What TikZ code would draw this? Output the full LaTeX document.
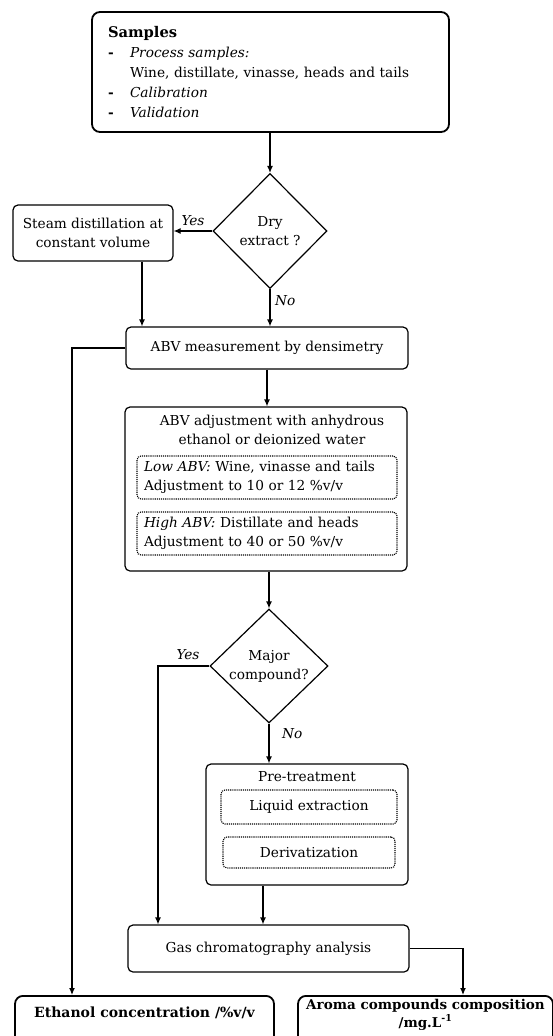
\documentclass[tikz,border=0pt]{standalone}
\usepackage{fontspec}
\setmainfont{DejaVu Serif}
\usetikzlibrary{shapes.geometric,arrows.meta}

\tikzset{
  stepbox/.style={draw,rounded corners=5pt,line width=1.2pt,inner sep=0pt,align=center},
  outbox/.style={draw,rounded corners=8pt,line width=1.8pt,inner sep=0pt,align=center},
  subbox/.style={draw,densely dotted,rounded corners=4pt,line width=1.1pt,inner sep=0pt},
  decision/.style={draw,diamond,line width=1.2pt,inner sep=0pt,align=center},
  answer/.style={font=\itshape},
}

\begin{document}
\fontsize{13.7}{19}\selectfont
\begin{tikzpicture}[x=1pt,y=-1pt,>={Latex[length=7pt,width=6pt]},line width=1.2pt]
\useasboundingbox (0,0) rectangle (553,1036);

% top of the flow
\node[stepbox,line width=1.8pt,rounded corners=8pt,text width=325pt,inner xsep=16pt,
  minimum height=120pt,align=left,font=\fontsize{13.7}{20}\selectfont] (samples) at (270.5,72)
  {{\fontsize{14.7}{20}\selectfont\textbf{Samples}}\\
   \makebox[22pt][l]{\textbf{-}}\textit{Process samples:}\\
   \hspace*{22pt}Wine, distillate, vinasse, heads and tails\\
   \makebox[22pt][l]{\textbf{-}}\textit{Calibration}\\
   \makebox[22pt][l]{\textbf{-}}\textit{Validation}};
\node[decision,minimum width=114pt,minimum height=115pt] (dry) at (270,231) {Dry\\extract ?};
\node[stepbox,minimum width=160pt,minimum height=56pt] (steam) at (93,233)
  {Steam distillation at\\constant volume};
\node[stepbox,minimum width=282pt,minimum height=42pt] (abvm) at (267,348)
  {ABV measurement by densimetry};

% adjustment
\node[stepbox,minimum width=282pt,minimum height=164pt] (adj) at (266,489) {};
\node[align=center,inner sep=0pt] (adjtitle) at (272,430)
  {ABV adjustment with anhydrous\\ethanol or deionized water};
\node[subbox,minimum width=260pt,minimum height=43pt,text width=246pt,inner xsep=7pt,align=left] (low) at (267,477.5)
  {\textit{Low ABV:} Wine, vinasse and tails\\Adjustment to 10 or 12 \%v/v};
\node[subbox,minimum width=260pt,minimum height=43pt,text width=246pt,inner xsep=7pt,align=left] (high) at (267,533.5)
  {\textit{High ABV:} Distillate and heads\\Adjustment to 40 or 50 \%v/v};

\node[decision,minimum width=118pt,minimum height=114pt] (major) at (269,666) {Major\\compound?};

% pre-treatment
\node[stepbox,minimum width=202pt,minimum height=121pt] (pre) at (307,824.5) {};
\node[inner sep=0pt] (pretitle) at (307,777) {Pre-treatment};
\node[subbox,minimum width=176pt,minimum height=34pt] (liquid) at (309,807) {Liquid extraction};
\node[subbox,minimum width=172pt,minimum height=31pt] (deriv) at (309,852.5) {Derivatization};

\node[stepbox,minimum width=281pt,minimum height=47pt] (gas) at (268.5,948.5) {Gas chromatography analysis};

% results
\node[outbox,anchor=north,minimum width=259pt,text height=22pt,text depth=28pt,
  font=\fontsize{14}{19}\selectfont\bfseries] (ethanol) at (144.5,995)
  {Ethanol concentration /\%v/v};
\node[outbox,anchor=north,minimum width=255pt,inner ysep=3pt,
  font=\fontsize{13.5}{18}\selectfont\bfseries] (aroma) at (425.5,995)
  {\parbox[t][42pt][t]{250pt}{\centering Aroma compounds composition\\/mg.L\textsuperscript{-1}}};

\coordinate (ethturn) at (72,348);
\coordinate (yesturn) at (158,666);
\coordinate (gasturn) at (463,948.5);

\draw[->] (dry.north |- samples.south) -- (dry.north);
\draw[->] (dry.west) -- (dry.west -| steam.east) node[answer,midway,above] {Yes};
\draw[->] (dry.south) -- (dry.south |- abvm.north) node[answer,pos=0.3,right] {No};
\draw[->] ([xshift=49pt]steam.south) -- ([xshift=49pt]steam.south |- abvm.north);
\draw[->] (abvm.west) -- (ethturn) -- (ethturn |- ethanol.north);
\draw[->] (abvm.south) -- (abvm.south |- adj.north);
\draw[->] (major.north |- adj.south) -- (major.north);
\draw[->] (major.west) -- (yesturn) -- (yesturn |- gas.north);
\node[answer] (yes2) at (188,655) {Yes};
\draw[->] (major.south) -- (major.south |- pre.north) node[answer,pos=0.25,right=8pt] {No};
\draw[->] ([xshift=-44pt]pre.south) -- ([xshift=-44pt]pre.south |- gas.north);
\draw[->] (gas.east) -- (gasturn) -- (gasturn |- aroma.north);
\end{tikzpicture}
\end{document}
